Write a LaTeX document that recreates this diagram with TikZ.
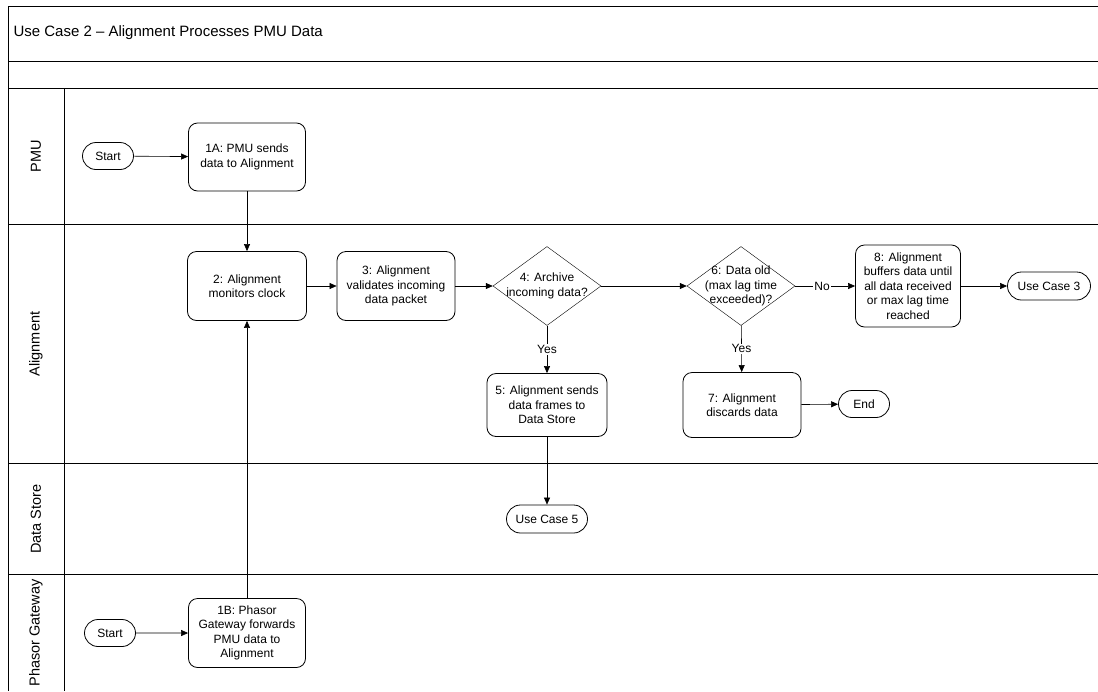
\documentclass[tikz,border=0pt]{standalone}
\usepackage{fontspec}
\setmainfont{Liberation Sans}
\usetikzlibrary{arrows.meta,shapes.geometric,shapes.misc}

\begin{document}
\begin{tikzpicture}[
            x=1pt, y=-1pt,
            font=\fontsize{12}{14.5}\selectfont,
            process/.style={draw, thick, rounded corners=9pt, align=center, inner sep=2pt},
            decision/.style={draw, diamond, inner sep=0pt, minimum width=108pt, minimum height=79pt,
                label={[align=center]center:#1}},
            terminal/.style={draw, thick, rounded rectangle, minimum width=55pt, minimum height=27pt, inner sep=2pt},
            flow/.style={semithick, -{Triangle[length=7pt,width=6pt]}},
            lane/.style={rotate=90, font=\fontsize{14.5}{16}\selectfont},
            ]
            \useasboundingbox (0,0) rectangle (1098,691);
            % pool frame and lanes
            \foreach \y in {6,61,88,224,463,574}
                \draw[line width=0.9pt] (8,\y) -- (1098,\y);
            \draw[line width=0.9pt] (8,6) -- (8,691);
            \draw (64,88) -- (64,691);
            \node[anchor=west, font=\fontsize{15}{17}\selectfont] (title) at (10,33) {Use Case 2 -- Alignment Processes PMU Data};
            \node[lane] (lanepmu) at (36,156) {PMU};
            \node[lane] (lanealign) at (36,344) {Alignment};
            \node[lane] (lanestore) at (36,519) {Data Store};
            \node[lane] (lanegw) at (36,633) {Phasor Gateway};

            % steps
            \node[terminal] (startA) at (108,156) {Start};
            \node[process, minimum width=117pt, minimum height=68pt] (s1a) at (247,157) {1A: PMU sends\\data to Alignment};
            \node[process, minimum width=119pt, minimum height=69pt] (s2) at (247,286) {2: Alignment\\monitors clock};
            \node[process, minimum width=118pt, minimum height=69pt] (s3) at (396,286) {3: Alignment\\validates incoming\\data packet};
            \node[decision={4: Archive\\incoming data?}] (s4) at (547,286) {};
            \node[process, minimum width=120pt, minimum height=63pt] (s5) at (547,405) {5: Alignment sends\\data frames to\\Data Store};
            \node[decision={6: Data old\\(max lag time\\exceeded)?}] (s6) at (741,286) {};
            \node[process, minimum width=118pt, minimum height=65pt] (s7) at (742,405) {7: Alignment\\discards data};
            \node[process, minimum width=105pt, minimum height=82pt] (s8) at (908,286) {8: Alignment\\buffers data until\\all data received\\or max lag time\\reached};
            \node[terminal, minimum width=87pt, minimum height=28pt] (uc3) at (1049,286) {Use Case 3};
            \node[terminal] (fin) at (864,404) {End};
            \node[terminal, minimum width=85pt, minimum height=28pt] (uc5) at (547,519) {Use Case 5};
            \node[terminal] (startB) at (110,633) {Start};
            \node[process, minimum width=117pt, minimum height=69pt] (s1b) at (247,633) {1B: Phasor\\Gateway forwards\\PMU data to\\Alignment};

            % connectors
            \draw[flow] (startA) -- (s1a);
            \draw[flow] (s1a) -- (s2);
            \draw[flow] (s1b) -- (s2);
            \draw[flow] (startB) -- (s1b);
            \draw[flow] (s2) -- (s3);
            \draw[flow] (s3) -- (s4);
            \draw[flow] (s4) -- (s6);
            \draw[flow] (s4) -- node[fill=white, inner sep=1pt] {Yes} (s5);
            \draw[flow] (s6) -- node[fill=white, inner sep=1pt, pos=0.45] {No} (s8);
            \draw[flow] (s6) -- node[fill=white, inner sep=1pt] {Yes} (s7);
            \draw[flow] (s8) -- (uc3);
            \draw[flow] (s7) -- (fin);
            \draw[flow] (s5) -- (uc5);
\end{tikzpicture}
\end{document}
